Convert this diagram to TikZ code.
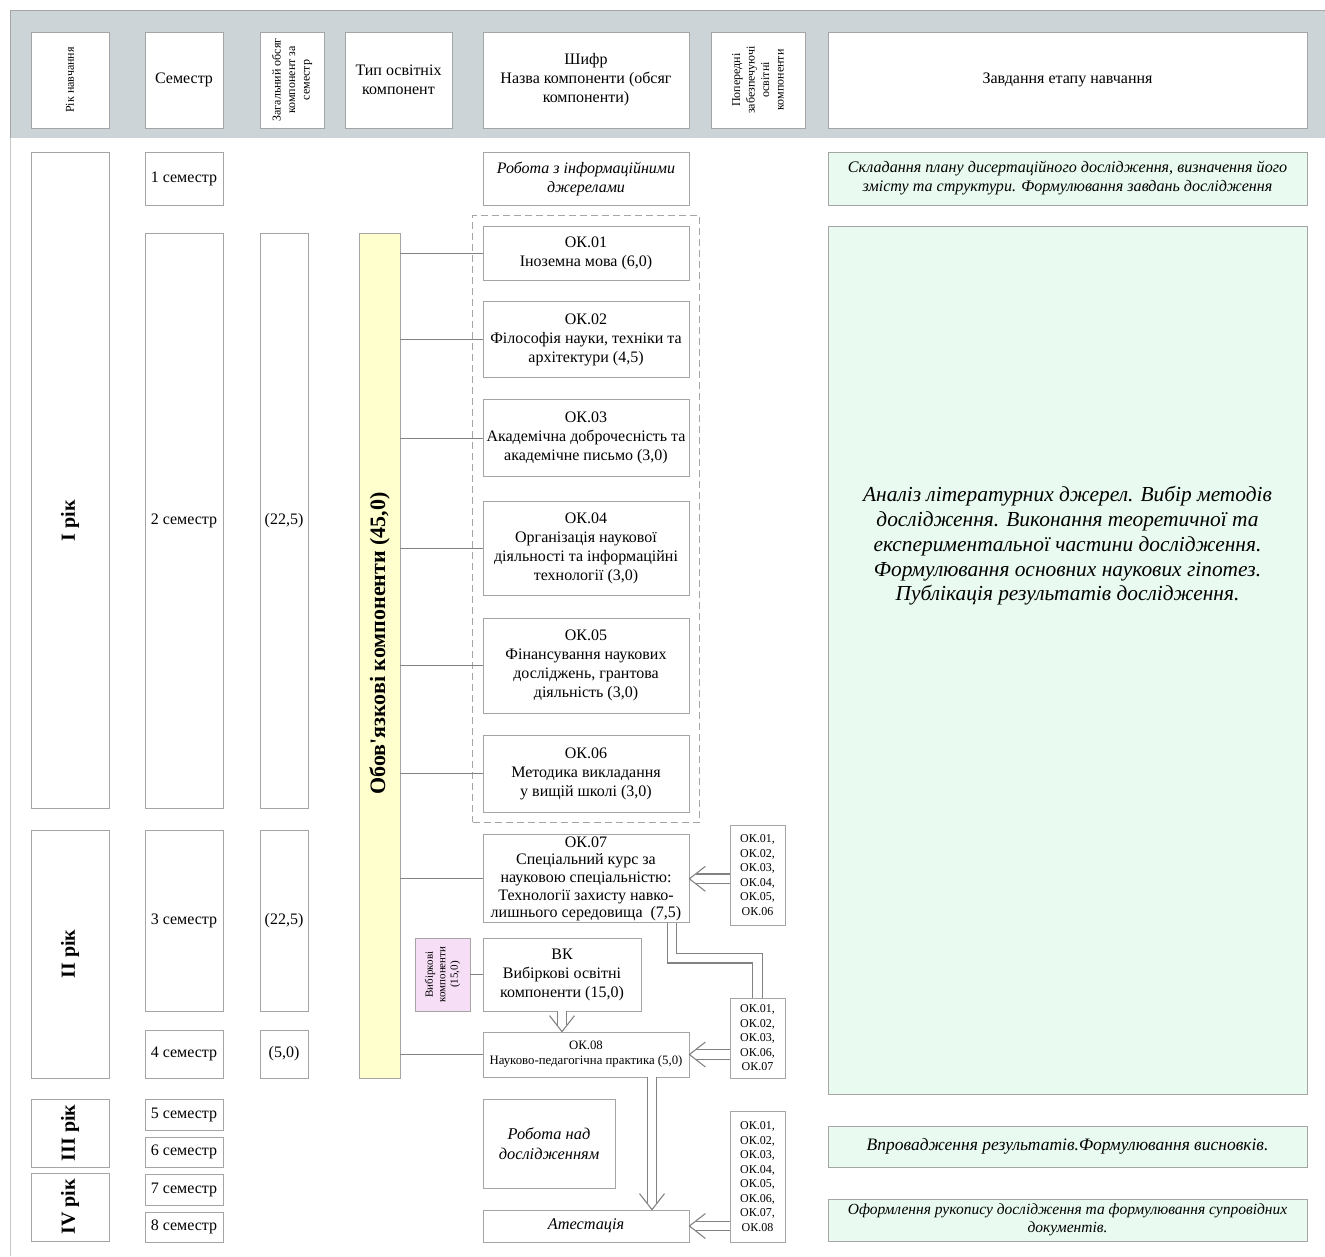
\documentclass[tikz,border=0pt]{standalone}
\usepackage{fontspec}
\setmainfont{Liberation Serif}
\usetikzlibrary{positioning, fit}

\definecolor{headgray}{RGB}{205,212,215}
\definecolor{boxgray}{RGB}{165,165,165}
\definecolor{linegray}{RGB}{130,130,130}
\definecolor{taskgreen}{RGB}{233,250,240}
\definecolor{baryellow}{RGB}{255,255,206}
\definecolor{vkpink}{RGB}{246,222,246}

\tikzset{
  cell/.style={draw=boxgray, line width=0.8pt, fill=white, inner sep=0pt, align=center, font=\fontsize{16}{19}\selectfont},
  headcell/.style={cell, minimum height=96pt},
  semcell/.style={cell, minimum width=78pt},
  okbox/.style={cell, minimum width=206pt},
  prebox/.style={cell, minimum width=55pt, font=\fontsize{12}{14.5}\selectfont},
  taskbox/.style={cell, fill=taskgreen, minimum width=479pt},
  yeartext/.style={rotate=90, font=\bfseries\fontsize{20}{24}\selectfont},
  smallrot/.style={rotate=90, font=\fontsize{12}{14.5}\selectfont},
  branch/.style={draw=linegray, line width=0.8pt},
  dbl/.style={draw=linegray, line width=1.1pt, double=white, double distance=8.5pt, shorten >=6.5pt},
  headleft/.pic={\draw[branch, line width=1.1pt] (16,-12.5) -- (0,0) -- (16,12.5);},
  headdown/.pic={\draw[branch, line width=1.1pt] (-12.5,-16) -- (0,0) -- (12.5,-16);},
}

\begin{document}
\begin{tikzpicture}[x=1pt, y=-1pt]
    \useasboundingbox (0,0) rectangle (1325,1256);

    % header band %
      \fill[headgray] (10,10) rectangle (1325,138);
      \draw[gray!70, line width=0.8pt] (10,138) -- (10,10) -- (1325,10);
      \draw[boxgray!60, line width=0.8pt] (10,138) -- (10,1256);

    % header nodes %
      \node[headcell, smallrot, minimum width=96pt, minimum height=78pt] (hyear) at (70,80) {Рік навчання};
      \node[headcell, minimum width=78pt] (hsem) at (184,80) {Семестр};
      \node[headcell, smallrot, minimum width=96pt, minimum height=64pt] (hvol) at (292,80) {Загальний обсяг\\компонент за\\семестр};
      \node[headcell, minimum width=107pt] (htype) at (398.5,80) {Тип освітніх\\компонент};
      \node[headcell, minimum width=206pt] (hname) at (586,80) {Шифр\\Назва компоненти (обсяг\\компоненти)};
      \node[headcell, smallrot, minimum width=96pt, minimum height=94pt] (hpre) at (758,80) {Попередні\\забезпечуючі\\освітні\\компоненти};
      \node[headcell, minimum width=479pt] (htask) at (1067.5,80) {Завдання етапу навчання};

    % semesters %
      \node[semcell, minimum height=53pt] (s1) at (184,178.5) {1 семестр};
      \node[semcell, minimum height=575pt] (s2) at (184,520.5) {2 семестр};
      \node[semcell, minimum height=181pt] (s3) at (184,920.5) {3 семестр};
      \node[semcell, minimum height=48pt] (s4) at (184,1054) {4 семестр};
      \node[semcell, minimum height=31pt] (s5) at (184,1114.5) {5 семестр};
      \node[semcell, minimum height=30pt] (s6) at (184,1152) {6 семестр};
      \node[semcell, minimum height=31pt] (s7) at (184,1189.5) {7 семестр};
      \node[semcell, minimum height=30pt] (s8) at (184,1227) {8 семестр};

    % years %
      \node[semcell, minimum height=656pt] (yr1) at (70,480) {};
      \node[semcell, minimum height=248pt] (yr2) at (70,954) {};
      \node[semcell, minimum height=68pt] (yr3) at (70,1133) {};
      \node[semcell, minimum height=68pt] (yr4) at (70,1207) {};
      \node[yeartext] (yr1txt) at (yr1 |- s2) {I рік};
      \node[yeartext] (yr2txt) at (yr2) {II рік};
      \node[yeartext] (yr3txt) at (yr3) {III рік};
      \node[yeartext] (yr4txt) at (yr4) {IV рік};

    % credits per semester %
      \node[cell, minimum width=48pt, minimum height=575pt] (v1) at (284,520.5) {(22,5)};
      \node[cell, minimum width=48pt, minimum height=181pt] (v2) at (284,920.5) {(22,5)};
      \node[cell, minimum width=48pt, minimum height=48pt] (v3) at (284,1054) {(5,0)};

    % mandatory bar %
      \node[cell, fill=baryellow, minimum width=41pt, minimum height=845pt] (bar) at (379.5,655.5) {};
      \node[rotate=90, font=\bfseries\fontsize{22}{24}\selectfont] (barlbl) at ([yshift=12pt]bar.center) {Обов\textquotesingle язкові компоненти (45,0)};

    % components %
      \node[okbox, minimum height=53pt, font=\itshape\fontsize{16}{19}\selectfont] (info) at (586,178.5) {Робота з інформаційними\\джерелами};
      \node[okbox, minimum height=54pt] (ok1) at (586,253) {ОК.01\\Іноземна мова (6,0)};
      \node[okbox, minimum height=76pt, below=21pt of ok1] (ok2) {ОК.02\\Філософія науки, техніки та\\архітектури (4,5)};
      \node[okbox, minimum height=77pt, below=21pt of ok2] (ok3) {ОК.03\\Академічна доброчесність та\\академічне письмо (3,0)};
      \node[okbox, minimum height=94pt, below=24pt of ok3] (ok4) {ОК.04\\Організація наукової\\діяльності та інформаційні\\технології (3,0)};
      \node[okbox, minimum height=95pt, below=22pt of ok4] (ok5) {ОК.05\\Фінансування наукових\\досліджень, грантова\\діяльність (3,0)};
      \node[okbox, minimum height=77pt, below=21pt of ok5] (ok6) {ОК.06\\Методика викладання\\у вищій школі (3,0)};
      \node[draw=boxgray, line width=0.8pt, dash pattern=on 7pt off 4pt, fit=(ok1)(ok6), inner sep=10pt] (okgroup) {};
      \node[okbox, minimum height=88pt, below=22pt of ok6, font=\fontsize{16}{17.6}\selectfont] (ok7) {ОК.07\\Спеціальний курс за\\науковою спеціальністю:\\Технології захисту навко-\\лишнього середовища\ \ (7,5)};
      \node[cell, fill=vkpink, rotate=90, minimum width=73pt, minimum height=55pt, font=\fontsize{11}{12.5}\selectfont] (vkl) at (442.5,974.5) {Вибіркові\\компоненти\\(15,0)};
      \node[cell, minimum width=158pt, minimum height=73pt] (vk) at (562,974.5) {ВК\\Вибіркові освітні\\компоненти (15,0)};
      \node[okbox, minimum height=45pt, font=\fontsize{12.8}{15}\selectfont] (ok8) at (586,1054.5) {ОК.08\\Науково-педагогічна практика (5,0)};
      \node[cell, minimum width=132pt, minimum height=89pt, font=\itshape\fontsize{16.4}{20}\selectfont] (work) at (549,1143.5) {Робота над\\дослідженням};
      \node[okbox, minimum height=32pt, font=\itshape\fontsize{16.3}{18}\selectfont] (att) at (586,1226) {Атестація};

    % prerequisites %
      \node[prebox, minimum height=100pt] (pre1) at (757.5,875) {ОК.01,\\ОК.02,\\ОК.03,\\ОК.04,\\ОК.05,\\ОК.06};
      \node[prebox, minimum height=80pt] (pre2) at (757.5,1038) {ОК.01,\\ОК.02,\\ОК.03,\\ОК.06,\\ОК.07};
      \node[prebox, minimum height=131pt] (pre3) at (757.5,1176.5) {ОК.01,\\ОК.02,\\ОК.03,\\ОК.04,\\ОК.05,\\ОК.06,\\ОК.07,\\ОК.08};

    % tasks %
      \node[taskbox, minimum height=53pt, font=\itshape\fontsize{16.1}{19}\selectfont] (task1) at (1067.5,178.5) {Складання плану дисертаційного дослідження, визначення його\\змісту та структури. Формулювання завдань дослідження};
      \node[taskbox, minimum height=868pt] (task2) at (1067.5,660) {};
      \node[align=center, font=\itshape\fontsize{21.4}{24.7}\selectfont] (task2txt) at (1067.5,546) {Аналіз літературних джерел. Вибір методів\\дослідження. Виконання теоретичної та\\експериментальної частини дослідження.\\Формулювання основних наукових гіпотез.\\Публікація результатів дослідження.};
      \node[taskbox, minimum height=41pt, font=\itshape\fontsize{17.5}{20}\selectfont] (task3) at (1067.5,1146.5) {Впровадження результатів.Формулювання висновків.};
      \node[taskbox, minimum height=42pt, font=\itshape\fontsize{15.5}{18}\selectfont] (task4) at (1067.5,1220) {Оформлення рукопису дослідження та формулювання супровідних\\документів.};

    % edges %
      \foreach \k in {ok1,ok2,ok3,ok4,ok5,ok6,ok7,ok8}
        \draw[branch] (bar.east |- \k.west) -- (\k.west);
      \draw[branch] (vkl.south) -- (vk.west);
      \draw[dbl] (pre1.west |- ok7.east) -- (ok7.east);
      \pic at (ok7.east) {headleft};
      \draw[dbl] (pre2.west |- ok8.east) -- (ok8.east);
      \pic at (ok8.east) {headleft};
      \draw[dbl] (pre3.west |- att.east) -- (att.east);
      \pic at (att.east) {headleft};
      \draw[dbl] (vk.south) -- (vk.south |- ok8.north);
      \pic at (vk.south |- ok8.north) {headdown};
      \draw[dbl] ([xshift=66pt]ok8.south) -- ([xshift=66pt]ok8.south |- att.north);
      \pic at ([xshift=66pt]ok8.south |- att.north) {headdown};
      \draw[dbl, shorten >=0pt] ([xshift=86pt]ok7.south) -- ++(0,35) -| (pre2.north);
\end{tikzpicture}
\end{document}
